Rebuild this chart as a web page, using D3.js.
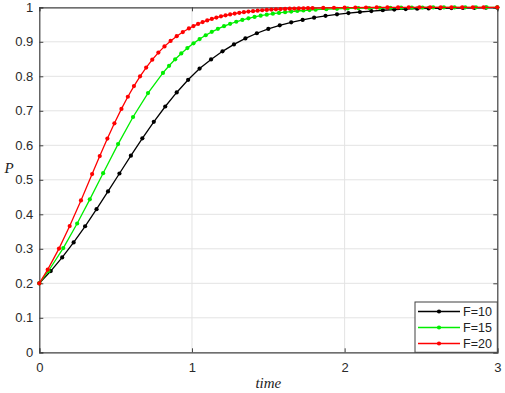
<!DOCTYPE html>
<html>
<head>
<meta charset="utf-8">
<script src="https://cdn.jsdelivr.net/npm/d3@7"></script>
<style>
  body { margin: 0; background: #fff; }
  svg { display: block; }
  .tick text { font-family: "Liberation Sans", Arial, sans-serif; font-size: 13px; fill: #2a2a2a; }
</style>
</head>
<body>
<div id="chart"></div>
<script>
const width = 505, height = 393;
const margin = {left: 39.3, right: 7.7, top: 7.3, bottom: 40.7};

const xTicks = [0, 1, 2, 3];
const yTicks = [0, 0.1, 0.2, 0.3, 0.4, 0.5, 0.6, 0.7, 0.8, 0.9, 1];
const yTickLabels = ["0", "0.1", "0.2", "0.3", "0.4", "0.5", "0.6", "0.7", "0.8", "0.9", "1"];

// F=10
const tF10 = [0, 0.075, 0.15, 0.225, 0.3, 0.375, 0.45, 0.525, 0.6, 0.675, 0.75, 0.825, 0.9, 0.975,
  1.05, 1.125, 1.2, 1.275, 1.35, 1.425, 1.5, 1.575, 1.65, 1.725, 1.8, 1.875, 1.95, 2.025, 2.1,
  2.175, 2.25, 2.325, 2.4, 2.475, 2.55, 2.625, 2.7, 2.775, 2.85, 2.925, 3.0];
const pF10 = [0.2, 0.2355, 0.275, 0.3185, 0.3653, 0.4149, 0.4663, 0.5183, 0.57, 0.6202, 0.6679,
  0.7125, 0.7532, 0.7899, 0.8224, 0.8489, 0.8724, 0.8925, 0.9098, 0.9248, 0.9373, 0.9477, 0.9564,
  0.9635, 0.9699, 0.9752, 0.9796, 0.9833, 0.9864, 0.9891, 0.9914, 0.9933, 0.995, 0.9959, 0.9967,
  0.9973, 0.9978, 0.9982, 0.9986, 0.9988, 0.999];

// F=15
const tF15 = [0, 0.06, 0.157, 0.248, 0.331, 0.418, 0.516, 0.614, 0.712, 0.81, 0.85, 0.89, 0.93,
  0.97, 1.01, 1.05, 1.09, 1.13, 1.17, 1.21, 1.25, 1.29, 1.33, 1.37, 1.41, 1.45, 1.49, 1.53, 1.57,
  1.61, 1.65, 1.69, 1.73, 1.77, 1.81, 1.88, 1.95, 2.02, 2.09, 2.16, 2.23, 2.3, 2.37, 2.44, 2.51,
  2.58, 2.65, 2.72, 2.79, 2.86, 2.93, 3.0];
const pF15 = [0.2, 0.2357, 0.3022, 0.3733, 0.4433, 0.5192, 0.6035, 0.682, 0.7514, 0.8099, 0.8305,
  0.8493, 0.8663, 0.8817, 0.8955, 0.9079, 0.919, 0.9289, 0.9376, 0.9453, 0.9521, 0.9581, 0.9634,
  0.968, 0.972, 0.9756, 0.9787, 0.9814, 0.9838, 0.9859, 0.9877, 0.9893, 0.9907, 0.9919, 0.993,
  0.9945, 0.9957, 0.9966, 0.9974, 0.9979, 0.9984, 0.9987, 0.999, 0.9992, 0.9994, 0.9995, 0.9996,
  0.9997, 0.9998, 0.9998, 0.9998, 0.9999];

// F=20
const tF20 = [0, 0.055, 0.129, 0.199, 0.273, 0.346, 0.396, 0.446, 0.492, 0.538, 0.58, 0.62, 0.66,
  0.7, 0.74, 0.78, 0.82, 0.86, 0.9, 0.94, 0.98, 1.01, 1.04, 1.07, 1.1, 1.13, 1.16, 1.19, 1.22,
  1.25, 1.28, 1.31, 1.34, 1.37, 1.4, 1.43, 1.46, 1.49, 1.52, 1.55, 1.58, 1.61, 1.64, 1.67, 1.7,
  1.73, 1.76, 1.79, 1.86, 1.93, 2.0, 2.07, 2.14, 2.21, 2.28, 2.35, 2.42, 2.49, 2.56, 2.63, 2.7,
  2.77, 2.84, 2.91, 3.0];
const pF20 = [0.2, 0.2395, 0.3006, 0.3658, 0.4403, 0.5167, 0.5688, 0.6194, 0.6638, 0.7055, 0.7407,
  0.7716, 0.7999, 0.8254, 0.8483, 0.8687, 0.8867, 0.9025, 0.9163, 0.9283, 0.9387, 0.9456, 0.9517,
  0.9572, 0.9621, 0.9664, 0.9703, 0.9737, 0.9768, 0.9794, 0.9818, 0.9839, 0.9858, 0.9875, 0.9889,
  0.9903, 0.9914, 0.9924, 0.9933, 0.9941, 0.9948, 0.9954, 0.9959, 0.9964, 0.9968, 0.9972, 0.9975,
  0.9978, 0.9983, 0.9987, 0.999, 0.9992, 0.9994, 0.9996, 0.9997, 0.9997, 0.9998, 0.9998, 0.9999,
  0.9999, 0.9999, 0.9999, 0.9999, 0.9999, 0.9999];

const seriesNames = ["F=10", "F=15", "F=20"];
const seriesColors = ["#000000", "#00ee00", "#ff0000"];
const seriesT = [tF10, tF15, tF20];
const seriesP = [pF10, pF15, pF20];

const series = seriesNames.map((name, i) => ({
    name: name,
    color: seriesColors[i],
    points: seriesT[i].map((t, j) => ({t: t, p: seriesP[i][j]}))
}));

const x = d3.scaleLinear().domain([0, 3]).range([margin.left, width - margin.right]);
const y = d3.scaleLinear().domain([0, 1]).range([height - margin.bottom, margin.top]);

const svg = d3.select("#chart").append("svg")
    .attr("width", width)
    .attr("height", height);

// grid
svg.append("g")
    .attr("stroke", "#e3e3e3")
    .attr("stroke-width", 1)
    .selectAll("line.gy")
    .data(yTicks.slice(1, -1))
    .join("line")
    .attr("x1", x(0)).attr("x2", x(3))
    .attr("y1", d => y(d)).attr("y2", d => y(d));

svg.append("g")
    .attr("stroke", "#e3e3e3")
    .attr("stroke-width", 1)
    .selectAll("line.gx")
    .data(xTicks.slice(1, -1))
    .join("line")
    .attr("y1", y(0)).attr("y2", y(1))
    .attr("x1", d => x(d)).attr("x2", d => x(d));

// axes
const xAxis = svg.append("g")
    .attr("transform", `translate(0,${y(0)})`)
    .call(d3.axisBottom(x).tickValues(xTicks).tickSize(-4).tickPadding(8).tickFormat(d3.format("d")));
const yAxis = svg.append("g")
    .attr("transform", `translate(${x(0)},0)`)
    .call(d3.axisLeft(y).tickValues(yTicks).tickSize(-4).tickPadding(6).tickFormat((d, i) => yTickLabels[i]));
svg.append("g")
    .attr("transform", `translate(0,${y(1)})`)
    .call(d3.axisTop(x).tickValues(xTicks).tickSize(-4).tickFormat(""));
svg.append("g")
    .attr("transform", `translate(${x(3)},0)`)
    .call(d3.axisRight(y).tickValues(yTicks).tickSize(-4).tickFormat(""));

svg.selectAll(".domain").attr("stroke", "#404040").attr("stroke-width", 1.2);
svg.selectAll(".tick line").attr("stroke", "#404040");
xAxis.selectAll(".tick text").attr("dy", "0.9em");

// lines + markers
const line = d3.line().x(d => x(d.t)).y(d => y(d.p));

const g = svg.append("g");
series.forEach(s => {
    g.append("path")
        .datum(s.points)
        .attr("fill", "none")
        .attr("stroke", s.color)
        .attr("stroke-width", 1.3)
        .attr("d", line);
    g.append("g")
        .selectAll("circle")
        .data(s.points)
        .join("circle")
        .attr("cx", d => x(d.t))
        .attr("cy", d => y(d.p))
        .attr("r", 2.1)
        .attr("fill", s.color);
});

// axis labels
svg.append("text")
    .attr("x", (x(0) + x(3)) / 2)
    .attr("y", 388)
    .attr("text-anchor", "middle")
    .attr("font-family", "'Liberation Serif', 'DejaVu Serif', serif")
    .attr("font-style", "italic")
    .attr("font-size", 15)
    .attr("fill", "#222")
    .text("time");

svg.append("text")
    .attr("x", 9)
    .attr("y", 173)
    .attr("text-anchor", "middle")
    .attr("font-family", "'Liberation Serif', 'DejaVu Serif', serif")
    .attr("font-style", "italic")
    .attr("font-size", 15)
    .attr("fill", "#222")
    .text("P");

// legend
const lg = svg.append("g").attr("transform", `translate(415,302)`);
lg.append("rect")
    .attr("width", x(3) - 415)
    .attr("height", y(0) - 302)
    .attr("fill", "#fff")
    .attr("stroke", "#404040")
    .attr("stroke-width", 1);
series.forEach((s, i) => {
    const ly = 9.5 + i * 16;
    lg.append("line")
        .attr("x1", 3).attr("x2", 45)
        .attr("y1", ly).attr("y2", ly)
        .attr("stroke", s.color)
        .attr("stroke-width", 1.3);
    lg.append("circle")
        .attr("cx", 24).attr("cy", ly).attr("r", 2.1)
        .attr("fill", s.color);
    lg.append("text")
        .attr("x", 48).attr("y", ly)
        .attr("dy", "0.35em")
        .attr("font-family", "'Liberation Sans', Arial, sans-serif")
        .attr("font-size", 12.5)
        .attr("fill", "#222")
        .text(s.name);
});
</script>
</body>
</html>
